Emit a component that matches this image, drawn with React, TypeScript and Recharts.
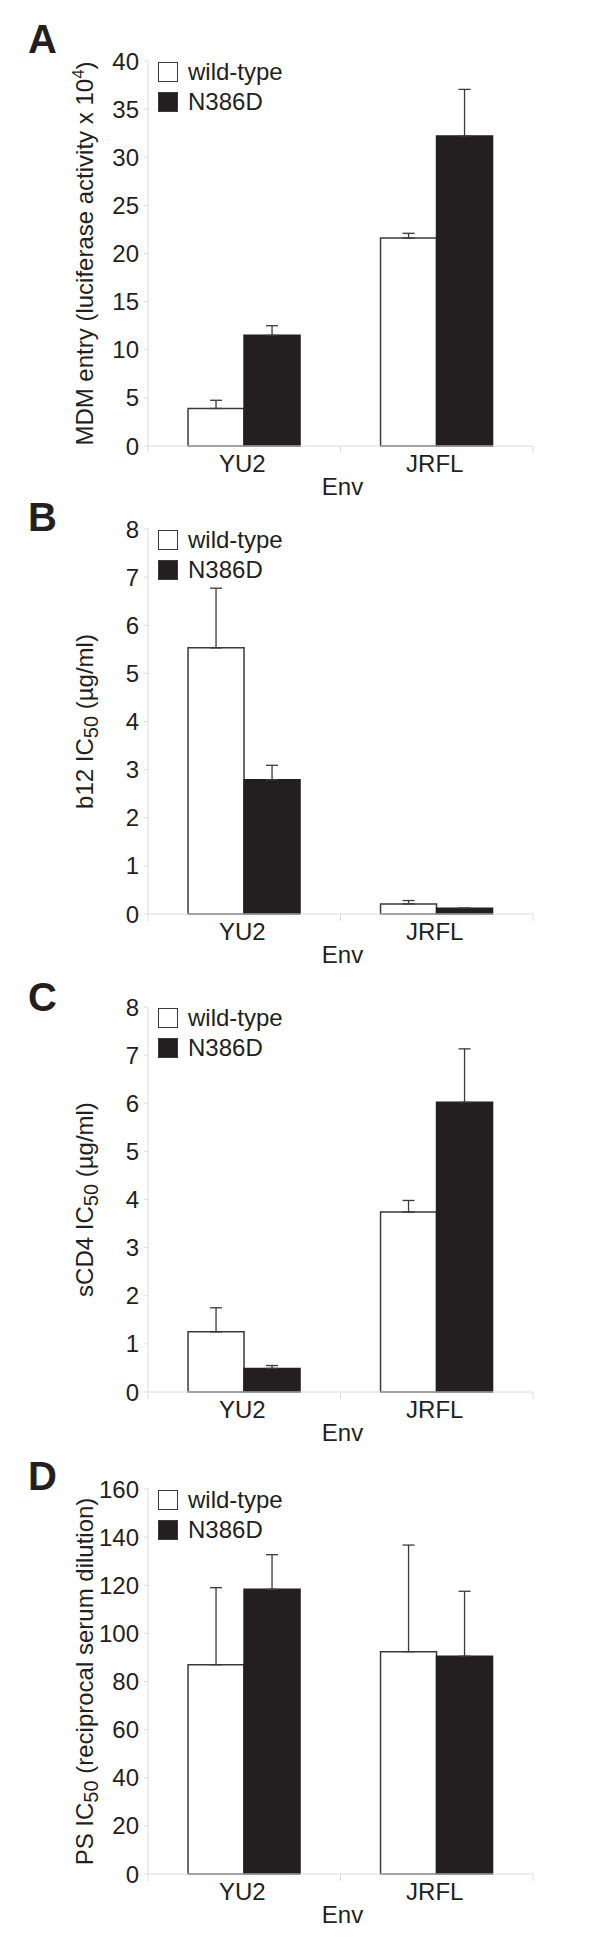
import React from "react";
import { BarChart, Bar, XAxis, YAxis, ErrorBar, Legend } from "recharts";

// Shared look
const FONT = "'Liberation Sans', Arial, Helvetica, sans-serif";
const INK = "#231f20";
const EDGE = "#3a3a3a";
const AXIS = "#dcdcdc";

// Categories (Env)
const envs = ["YU2", "JRFL"];

// A: MDM entry (luciferase activity x 10^4)
const entryWt = [3.9, 21.6];
const entryWtErr = [0.85, 0.5];
const entryMut = [11.5, 32.2];
const entryMutErr = [1.0, 4.85];
const entryTicks = [0, 5, 10, 15, 20, 25, 30, 35, 40];

// B: b12 IC50 (ug/ml)
const b12Wt = [5.53, 0.21];
const b12WtErr = [1.24, 0.07];
const b12Mut = [2.79, 0.12];
const b12MutErr = [0.3, 0];
const b12Ticks = [0, 1, 2, 3, 4, 5, 6, 7, 8];

// C: sCD4 IC50 (ug/ml)
const cd4Wt = [1.25, 3.74];
const cd4WtErr = [0.5, 0.24];
const cd4Mut = [0.49, 6.02];
const cd4MutErr = [0.06, 1.11];
const cd4Ticks = [0, 1, 2, 3, 4, 5, 6, 7, 8];

// D: PS IC50 (reciprocal serum dilution)
const psWt = [87, 92.4];
const psWtErr = [32, 44.3];
const psMut = [118.3, 90.5];
const psMutErr = [14.4, 27];
const psTicks = [0, 20, 40, 60, 80, 100, 120, 140, 160];

const legendItems = [
  { label: "wild-type", fill: "#ffffff" },
  { label: "N386D", fill: INK },
];

// layout of each panel
const CHART_W = 600;
const Y_AXIS_W = 148;
const RIGHT = 67;
const TOP = 40;
const PLOT_H = 385;
const X_AXIS_H = 70;
const BAND = (CHART_W - Y_AXIS_W - RIGHT) / envs.length;

function buildRows(wt: number[], wtErr: number[], mut: number[], mutErr: number[]) {
  return envs.map((env, i) => ({
    env,
    wt: wt[i],
    wtErr: [0, wtErr[i]],
    mut: mut[i],
    mutErr: [0, mutErr[i]],
  }));
}

const EnvTick = (props: any) => {
  const { x, y, payload } = props;
  return (
    <g>
      <line x1={x - BAND / 2} y1={y} x2={x - BAND / 2} y2={y + 7} stroke={AXIS} />
      <line x1={x + BAND / 2} y1={y} x2={x + BAND / 2} y2={y + 7} stroke={AXIS} />
      <text x={x - 2} y={y + 26} textAnchor="middle" fontSize={24} fontFamily={FONT} fill={INK}>
        {payload.value}
      </text>
    </g>
  );
};

const LegendBox = () => (
  <div style={{ fontFamily: FONT, fontSize: 24, color: INK }}>
    {legendItems.map((it) => (
      <div key={it.label} style={{ display: "flex", alignItems: "center", height: 30 }}>
        <span
          style={{
            display: "inline-block",
            width: 20,
            height: 20,
            boxSizing: "border-box",
            border: `1.5px solid ${EDGE}`,
            background: it.fill,
            marginRight: 10,
          }}
        />
        {it.label}
      </div>
    ))}
  </div>
);

interface PanelProps {
  top: number;
  rows: any[];
  ticks: number[];
  yLabel: React.ReactNode;
}

function Panel({ top, rows, ticks, yLabel }: PanelProps) {
  return (
    <div style={{ position: "absolute", left: 0, top: top - TOP }}>
      <BarChart
        width={CHART_W}
        height={TOP + PLOT_H + X_AXIS_H}
        data={rows}
        margin={{ top: TOP, right: RIGHT, bottom: 0, left: 0 }}
        barCategoryGap="20.8%"
        barGap={0}
      >
        <XAxis
          dataKey="env"
          height={X_AXIS_H}
          axisLine={{ stroke: AXIS }}
          tickLine={false}
          tickSize={0}
          tickMargin={0}
          tick={<EnvTick />}
          interval={0}
          label={{
            content: (p: any) => {
              const vb = p.viewBox;
              return (
                <text
                  x={vb.x + vb.width / 2 + 2}
                  y={vb.y + 49}
                  textAnchor="middle"
                  fontSize={24}
                  fontFamily={FONT}
                  fill={INK}
                >
                  Env
                </text>
              );
            },
          }}
        />
        <YAxis
          width={Y_AXIS_W}
          domain={[ticks[0], ticks[ticks.length - 1]]}
          ticks={ticks}
          interval={0}
          axisLine={{ stroke: AXIS }}
          tickLine={{ stroke: AXIS }}
          tickSize={4}
          tickMargin={5}
          tick={{ fontSize: 24, fontFamily: FONT, fill: INK }}
          label={{
            content: (p: any) => {
              const vb = p.viewBox;
              const bx = 93;
              const cy = vb.y + vb.height / 2;
              return (
                <text
                  x={bx}
                  y={cy}
                  transform={`rotate(-90 ${bx} ${cy})`}
                  textAnchor="middle"
                  fontSize={24}
                  fontFamily={FONT}
                  fill={INK}
                >
                  {yLabel}
                </text>
              );
            },
          }}
        />
        <Legend
          layout="vertical"
          align="center"
          verticalAlign="middle"
          wrapperStyle={{ top: TOP - 4, left: 158, width: 200, height: 60 }}
          content={() => <LegendBox />}
        />
        <Bar dataKey="wt" name="wild-type" fill="#ffffff" stroke={EDGE} strokeWidth={1.5} isAnimationActive={false}>
          <ErrorBar dataKey="wtErr" direction="y" width={6} stroke={EDGE} strokeWidth={1.3} />
        </Bar>
        <Bar dataKey="mut" name="N386D" fill={INK} stroke={INK} strokeWidth={1.5} isAnimationActive={false}>
          <ErrorBar dataKey="mutErr" direction="y" width={6} stroke={EDGE} strokeWidth={1.3} />
        </Bar>
      </BarChart>
    </div>
  );
}

const ic50 = (prefix: string, suffix: string) => (
  <>
    <tspan>{prefix} IC</tspan>
    <tspan dy={5} fontSize={20}>50</tspan>
    <tspan dy={-5}>{suffix}</tspan>
  </>
);

const panelLetters = [
  { letter: "A", baseline: 53 },
  { letter: "B", baseline: 531 },
  { letter: "C", baseline: 1011 },
  { letter: "D", baseline: 1490 },
];

export default function App() {
  return (
    <div style={{ position: "absolute", left: 0, top: 0, width: 600, height: 1952, background: "#fff" }}>
      <Panel
        top={61}
        rows={buildRows(entryWt, entryWtErr, entryMut, entryMutErr)}
        ticks={entryTicks}
        yLabel={
          <>
            <tspan>MDM entry (luciferase activity x 10</tspan>
            <tspan dy={-9} fontSize={17}>4</tspan>
            <tspan dy={9}>)</tspan>
          </>
        }
      />
      <Panel
        top={529}
        rows={buildRows(b12Wt, b12WtErr, b12Mut, b12MutErr)}
        ticks={b12Ticks}
        yLabel={ic50("b12", " (µg/ml)")}
      />
      <Panel
        top={1007}
        rows={buildRows(cd4Wt, cd4WtErr, cd4Mut, cd4MutErr)}
        ticks={cd4Ticks}
        yLabel={ic50("sCD4", " (µg/ml)")}
      />
      <Panel
        top={1489}
        rows={buildRows(psWt, psWtErr, psMut, psMutErr)}
        ticks={psTicks}
        yLabel={ic50("PS", " (reciprocal serum dilution)")}
      />
      <svg
        width={600}
        height={1952}
        style={{ position: "absolute", left: 0, top: 0, pointerEvents: "none" }}
      >
        {panelLetters.map((p) => (
          <text key={p.letter} x={28} y={p.baseline} fontSize={40} fontWeight="bold" fontFamily={FONT} fill={INK}>
            {p.letter}
          </text>
        ))}
      </svg>
    </div>
  );
}
